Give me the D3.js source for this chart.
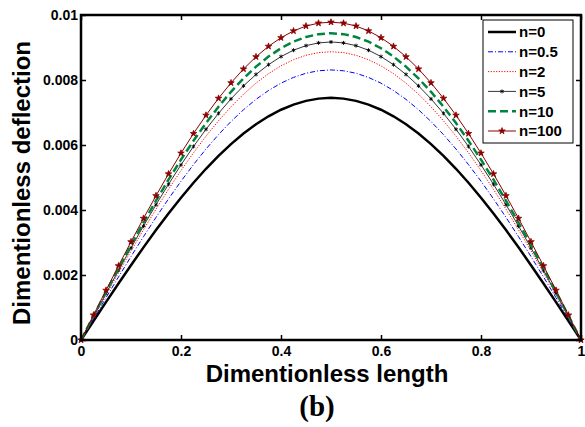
<!DOCTYPE html>
<html>
<head>
<meta charset="utf-8">
<script src="https://cdn.jsdelivr.net/npm/d3@7"></script>
<style>
  body { margin: 0; background: #fff; }
  svg { display: block; font-family: Arial, "Liberation Sans", sans-serif; }
</style>
</head>
<body>
<script>
// dimensionless length, step 0.025
var xs = [0, 0.025, 0.05, 0.075, 0.1, 0.125, 0.15, 0.175, 0.2, 0.225, 0.25, 0.275, 0.3, 0.325, 0.35, 0.375, 0.4, 0.425, 0.45, 0.475, 0.5,
          0.525, 0.55, 0.575, 0.6, 0.625, 0.65, 0.675, 0.7, 0.725, 0.75, 0.775, 0.8, 0.825, 0.85, 0.875, 0.9, 0.925, 0.95, 0.975, 1];

// deflection for each power-law index n
var n0 = [0, 0.000584, 0.001165, 0.001739, 0.002302, 0.002851, 0.003382, 0.003893, 0.004379, 0.004838, 0.005268, 0.005665, 0.006027, 0.006352, 0.006638, 0.006883, 0.007085, 0.007244, 0.007358, 0.007427, 0.007450,
          0.007427, 0.007358, 0.007244, 0.007085, 0.006883, 0.006638, 0.006352, 0.006027, 0.005665, 0.005268, 0.004838, 0.004379, 0.003893, 0.003382, 0.002851, 0.002302, 0.001739, 0.001165, 0.000584, 0];
var n05 = [0, 0.000652, 0.001300, 0.001940, 0.002568, 0.003180, 0.003773, 0.004342, 0.004885, 0.005397, 0.005876, 0.006319, 0.006723, 0.007085, 0.007404, 0.007677, 0.007903, 0.008080, 0.008208, 0.008284, 0.008310,
           0.008284, 0.008208, 0.008080, 0.007903, 0.007677, 0.007404, 0.007085, 0.006723, 0.006319, 0.005876, 0.005397, 0.004885, 0.004342, 0.003773, 0.003180, 0.002568, 0.001940, 0.001300, 0.000652, 0];
var n2 = [0, 0.000696, 0.001388, 0.002071, 0.002741, 0.003394, 0.004027, 0.004635, 0.005214, 0.005761, 0.006272, 0.006745, 0.007176, 0.007563, 0.007903, 0.008195, 0.008436, 0.008625, 0.008761, 0.008843, 0.008870,
          0.008843, 0.008761, 0.008625, 0.008436, 0.008195, 0.007903, 0.007563, 0.007176, 0.006745, 0.006272, 0.005761, 0.005214, 0.004635, 0.004027, 0.003394, 0.002741, 0.002071, 0.001388, 0.000696, 0];
var n5 = [0, 0.000719, 0.001434, 0.002141, 0.002834, 0.003509, 0.004163, 0.004791, 0.005390, 0.005955, 0.006484, 0.006973, 0.007419, 0.007819, 0.008171, 0.008472, 0.008721, 0.008917, 0.009057, 0.009142, 0.009170,
          0.009142, 0.009057, 0.008917, 0.008721, 0.008472, 0.008171, 0.007819, 0.007419, 0.006973, 0.006484, 0.005955, 0.005390, 0.004791, 0.004163, 0.003509, 0.002834, 0.002141, 0.001434, 0.000719, 0];
var n10 = [0, 0.000741, 0.001477, 0.002204, 0.002917, 0.003613, 0.004286, 0.004932, 0.005549, 0.006131, 0.006675, 0.007178, 0.007637, 0.008049, 0.008411, 0.008721, 0.008978, 0.009179, 0.009324, 0.009411, 0.009440,
           0.009411, 0.009324, 0.009179, 0.008978, 0.008721, 0.008411, 0.008049, 0.007637, 0.007178, 0.006675, 0.006131, 0.005549, 0.004932, 0.004286, 0.003613, 0.002917, 0.002204, 0.001477, 0.000741, 0];
var n100 = [0, 0.000767, 0.001530, 0.002283, 0.003022, 0.003743, 0.004440, 0.005110, 0.005749, 0.006352, 0.006916, 0.007437, 0.007912, 0.008339, 0.008714, 0.009036, 0.009301, 0.009510, 0.009660, 0.009750, 0.009780,
            0.009750, 0.009660, 0.009510, 0.009301, 0.009036, 0.008714, 0.008339, 0.007912, 0.007437, 0.006916, 0.006352, 0.005749, 0.005110, 0.004440, 0.003743, 0.003022, 0.002283, 0.001530, 0.000767, 0];

var seriesNames = ["n=0", "n=0.5", "n=2", "n=5", "n=10", "n=100"];
var xTicks = [0, 0.2, 0.4, 0.6, 0.8, 1];
var yTicks = [0, 0.002, 0.004, 0.006, 0.008, 0.01];

// line styles, same order as the names
var styles = [
  {color: "#000000", width: 2.5, dash: null, marker: null},
  {color: "#0000ff", width: 1, dash: "5,2,1,2", marker: null},
  {color: "#ff0000", width: 1, dash: "1.2,1.5", marker: null},
  {color: "#000000", width: 0.8, dash: null, marker: "asterisk"},
  {color: "#00853e", width: 2.5, dash: "8,4", marker: null},
  {color: "#8b0000", width: 1, dash: null, marker: "star"}
];

var series = [n0, n05, n2, n5, n10, n100];

var W = 585, H = 427;
var margin = {top: 15, right: 4, bottom: 87, left: 81},
    width = W - margin.left - margin.right,
    height = H - margin.top - margin.bottom;

var svg = d3.select("body").append("svg")
    .attr("width", W)
    .attr("height", H);

var g = svg.append("g")
    .attr("transform", "translate(" + margin.left + "," + margin.top + ")");

var x = d3.scaleLinear().domain([0, 1]).range([0, width]);
var y = d3.scaleLinear().domain([0, 0.01]).range([height, 0]);

var tickFmt = function(d) { return d === 0 ? "0" : d3.format("~g")(d); };

// axes, ticks pointing inward
g.append("g")
    .attr("transform", "translate(0," + height + ")")
    .call(d3.axisBottom(x).tickValues(xTicks).tickSizeInner(-5).tickSizeOuter(0).tickPadding(6).tickFormat(tickFmt));
g.append("g")
    .call(d3.axisLeft(y).tickValues(yTicks).tickSizeInner(-5).tickSizeOuter(0).tickPadding(3).tickFormat(tickFmt));
g.append("g")
    .call(d3.axisTop(x).tickValues(xTicks).tickSizeInner(-5).tickSizeOuter(0).tickFormat(""));
g.append("g")
    .attr("transform", "translate(" + width + ",0)")
    .call(d3.axisRight(y).tickValues(yTicks).tickSizeInner(-5).tickSizeOuter(0).tickFormat(""));

g.selectAll(".tick line").attr("stroke", "#000").attr("stroke-width", 1.5);
g.selectAll(".domain").remove();
g.selectAll(".tick text")
    .attr("fill", "#000")
    .style("font-size", "14px")
    .style("font-weight", "bold");

// markers
function markerPath(type) {
  return type === "star"
      ? d3.symbol().type(d3.symbolStar).size(13)
      : d3.symbol().type(d3.symbolAsterisk).size(11);
}

// curves
var line = d3.line()
    .x(function(d, i) { return x(xs[i]); })
    .y(function(d) { return y(d); });

series.forEach(function(s, k) {
  var st = styles[k];
  g.append("path")
      .datum(s)
      .attr("fill", "none")
      .attr("stroke", st.color)
      .attr("stroke-width", st.width)
      .attr("stroke-dasharray", st.dash)
      .attr("d", line);
  if (st.marker) {
    g.append("g").selectAll("path")
        .data(s)
      .enter().append("path")
        .attr("transform", function(d, i) { return "translate(" + x(xs[i]) + "," + y(d) + ")"; })
        .attr("d", markerPath(st.marker))
        .attr("fill", st.marker === "star" ? st.color : "none")
        .attr("stroke", st.color)
        .attr("stroke-width", st.marker === "star" ? 0.8 : 0.9);
  }
});

// plot box
g.append("rect")
    .attr("width", width)
    .attr("height", height)
    .attr("fill", "none")
    .attr("stroke", "#000")
    .attr("stroke-width", 2.5);

// legend
var lg = svg.append("g").attr("transform", "translate(483,20)");
lg.append("rect")
    .attr("width", 90)
    .attr("height", 123)
    .attr("fill", "#fff")
    .attr("stroke", "#000")
    .attr("stroke-width", 1);

seriesNames.forEach(function(name, k) {
  var st = styles[k];
  var yy = 12 + k * 19.8;
  lg.append("line")
      .attr("x1", 5).attr("x2", 33)
      .attr("y1", yy).attr("y2", yy)
      .attr("stroke", st.color)
      .attr("stroke-width", st.width)
      .attr("stroke-dasharray", st.dash);
  if (st.marker) {
    lg.append("path")
        .attr("transform", "translate(19," + yy + ")")
        .attr("d", markerPath(st.marker))
        .attr("fill", st.marker === "star" ? st.color : "none")
        .attr("stroke", st.color)
        .attr("stroke-width", st.marker === "star" ? 0.8 : 0.9);
  }
  lg.append("text")
      .attr("x", 36)
      .attr("y", yy)
      .attr("dy", "0.36em")
      .style("font-size", "15px")
      .style("font-weight", "bold")
      .text(name);
});

// axis titles
svg.append("text")
    .attr("x", 327)
    .attr("y", 382)
    .attr("text-anchor", "middle")
    .style("font-size", "24px")
    .style("font-weight", "bold")
    .text("Dimentionless length");

svg.append("text")
    .attr("transform", "translate(30,183) rotate(-90)")
    .attr("text-anchor", "middle")
    .style("font-size", "24px")
    .style("font-weight", "bold")
    .text("Dimentionless deflection");

svg.append("text")
    .attr("x", 317)
    .attr("y", 416)
    .attr("text-anchor", "middle")
    .style("font-family", "'Liberation Serif', 'Times New Roman', serif")
    .style("font-size", "29px")
    .style("font-weight", "bold")
    .text("(b)");
</script>
</body>
</html>
